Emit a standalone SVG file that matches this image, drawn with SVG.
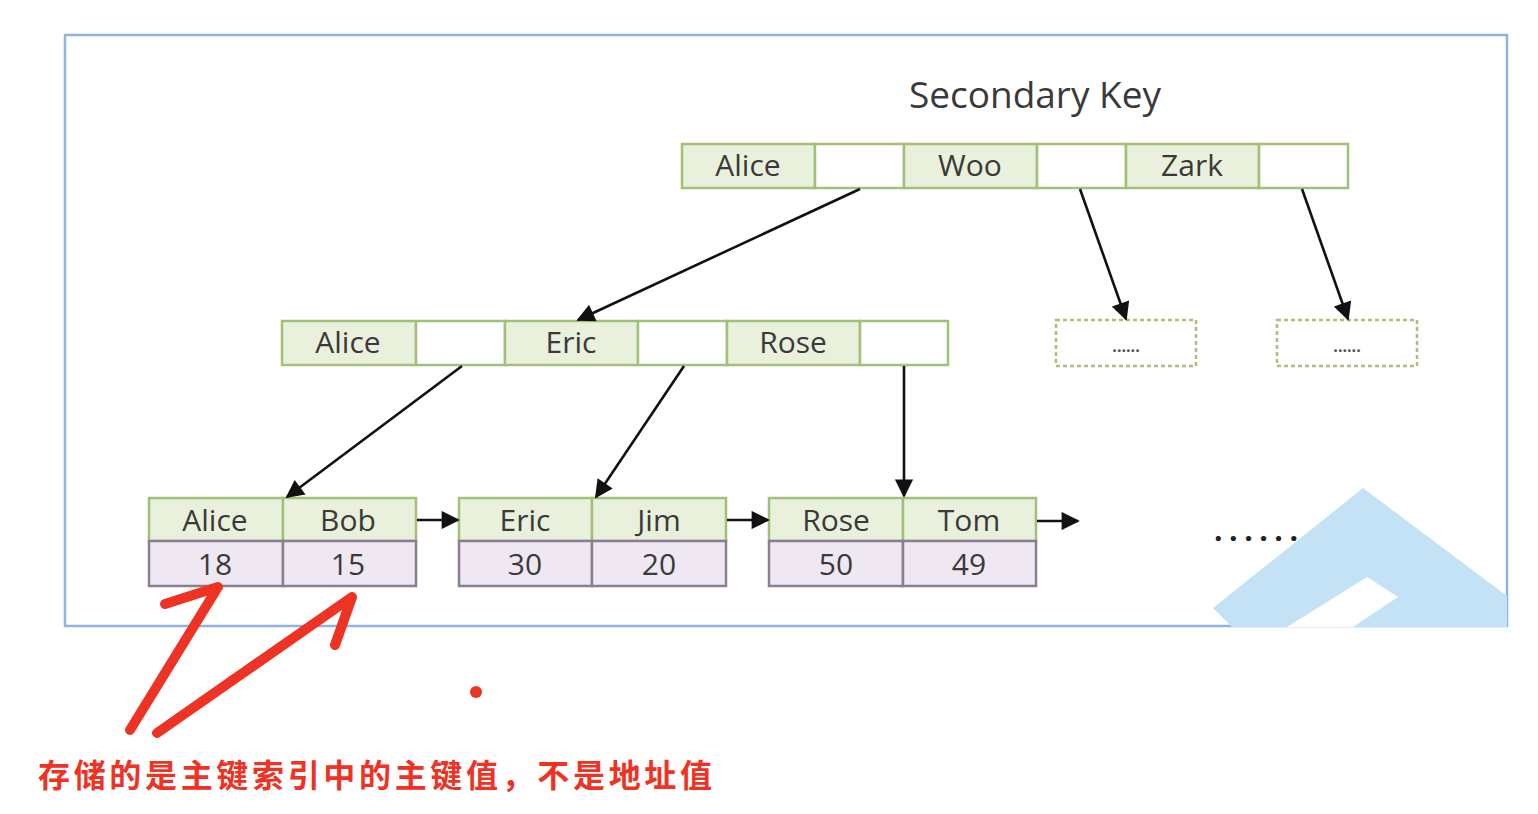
<svg xmlns="http://www.w3.org/2000/svg" width="1538" height="814" viewBox="0 0 1538 814">
<defs>
<style>
.k{fill:#e9f0dc;stroke:#a3c07a;stroke-width:2.5}
.e{fill:#ffffff;stroke:#a3c07a;stroke-width:2.5}
.v{fill:#efe8f2;stroke:#8a7f92;stroke-width:2.5}
.t{font-family:"Open Sans","Noto Sans",sans-serif;font-size:30px;fill:#3a3a3a;text-anchor:middle}
.c{stroke:#111;stroke-width:2.6;fill:none;marker-end:url(#ah)}
.d{fill:#fff;stroke:#a8c07e;stroke-width:2.5;stroke-dasharray:4 3}
.r{stroke:#ee3224;stroke-width:10;fill:none;stroke-linecap:round;stroke-linejoin:round}
</style>
<marker id="ah" viewBox="0 0 10 10" refX="9" refY="5" markerWidth="8" markerHeight="7" orient="auto" markerUnits="strokeWidth">
<path d="M0,0 L10,5 L0,10 z" fill="#111"/>
</marker>
</defs>
<rect width="1538" height="814" fill="#ffffff"/>
<rect x="65" y="35" width="1442" height="591" fill="#fff" stroke="#8fb4e3" stroke-width="2.5"/>
<g id="watermark" fill="#c3e2f6">
<polygon points="1213,608 1363,488 1507,596 1507,627 1232,627"/>
<polygon points="1287,627 1367,577 1398,597 1353,627" fill="#ffffff"/>
</g>
<text x="1035" y="108" font-family="'Open Sans','Noto Sans',sans-serif" font-size="37" fill="#3a3a3a" text-anchor="middle">Secondary Key</text>
<g id="root">
<rect class="k" x="682" y="144" width="133" height="44"/>
<rect class="e" x="815" y="144" width="89" height="44"/>
<rect class="k" x="904" y="144" width="133" height="44"/>
<rect class="e" x="1037" y="144" width="89" height="44"/>
<rect class="k" x="1126" y="144" width="133" height="44"/>
<rect class="e" x="1259" y="144" width="89" height="44"/>
<text class="t" x="748" y="176">Alice</text>
<text class="t" x="970" y="176">Woo</text>
<text class="t" x="1192" y="176">Zark</text>
</g>
<g id="mid">
<rect class="k" x="282" y="321" width="134" height="44"/>
<rect class="e" x="416" y="321" width="89" height="44"/>
<rect class="k" x="505" y="321" width="133" height="44"/>
<rect class="e" x="638" y="321" width="89" height="44"/>
<rect class="k" x="727" y="321" width="133" height="44"/>
<rect class="e" x="860" y="321" width="88" height="44"/>
<text class="t" x="348" y="353">Alice</text>
<text class="t" x="571" y="353">Eric</text>
<text class="t" x="793" y="353">Rose</text>
</g>
<g id="dash1">
<rect class="d" x="1056" y="320" width="140" height="46"/>
<text x="1126" y="352" font-family="'Open Sans',sans-serif" font-size="16" font-weight="bold" fill="#555" text-anchor="middle">......</text>
</g>
<g id="dash2">
<rect class="d" x="1277" y="320" width="140" height="46"/>
<text x="1347" y="352" font-family="'Open Sans',sans-serif" font-size="16" font-weight="bold" fill="#555" text-anchor="middle">......</text>
</g>
<g id="leaf1">
<rect class="k" x="149" y="498" width="134" height="43"/>
<rect class="k" x="283" y="498" width="133" height="43"/>
<rect class="v" x="149" y="541" width="134" height="45"/>
<rect class="v" x="283" y="541" width="133" height="45"/>
<text class="t" x="215" y="531">Alice</text>
<text class="t" x="348" y="531">Bob</text>
<text class="t" x="215" y="575">18</text>
<text class="t" x="348" y="575">15</text>
</g>
<g id="leaf2">
<rect class="k" x="459" y="498" width="133" height="43"/>
<rect class="k" x="592" y="498" width="134" height="43"/>
<rect class="v" x="459" y="541" width="133" height="45"/>
<rect class="v" x="592" y="541" width="134" height="45"/>
<text class="t" x="525" y="531">Eric</text>
<text class="t" x="659" y="531">Jim</text>
<text class="t" x="525" y="575">30</text>
<text class="t" x="659" y="575">20</text>
</g>
<g id="leaf3">
<rect class="k" x="769" y="498" width="134" height="43"/>
<rect class="k" x="903" y="498" width="133" height="43"/>
<rect class="v" x="769" y="541" width="134" height="45"/>
<rect class="v" x="903" y="541" width="133" height="45"/>
<text class="t" x="836" y="531">Rose</text>
<text class="t" x="969" y="531">Tom</text>
<text class="t" x="836" y="575">50</text>
<text class="t" x="969" y="575">49</text>
</g>
<text x="1214" y="541" font-family="'Open Sans',sans-serif" font-size="30" font-weight="bold" fill="#222" textLength="84" lengthAdjust="spacing">......</text>
<g id="connectors">
<line class="c" x1="860" y1="189" x2="578" y2="320"/>
<line class="c" x1="1080" y1="189" x2="1126" y2="319"/>
<line class="c" x1="1302" y1="189" x2="1348" y2="319"/>
<line class="c" x1="462" y1="366" x2="287" y2="497"/>
<line class="c" x1="684" y1="366" x2="596" y2="497"/>
<line class="c" x1="904" y1="366" x2="904" y2="496"/>
<line class="c" x1="417" y1="520" x2="458" y2="520"/>
<line class="c" x1="727" y1="520" x2="768" y2="520"/>
<line class="c" x1="1037" y1="521" x2="1078" y2="521"/>
</g>
<g id="annotation">
<path class="r" d="M165,604 L218,587 L130,730"/>
<path class="r" d="M157,733 L352,597 L335,645"/>
<circle cx="476" cy="692" r="6" fill="#ee3224"/>
<text x="38" y="787" font-family="'Noto Sans CJK SC','Noto Sans',sans-serif" font-size="32" font-weight="bold" fill="#ee3224" textLength="674" lengthAdjust="spacing">存储的是主键索引中的主键值，不是地址值</text>
</g>
</svg>
